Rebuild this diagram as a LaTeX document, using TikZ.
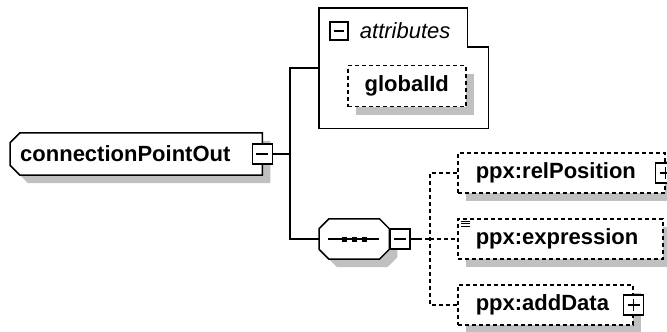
\documentclass[tikz,border=0pt]{standalone}
\usepackage{fontspec}
\setmainfont{Liberation Sans}
\usetikzlibrary{positioning,shadows,backgrounds}
\definecolor{shade}{RGB}{192,192,192}
\newcommand\lblfont{\fontsize{22}{26}\selectfont}
\tikzset{
  conn/.style={line width=1.5pt, draw=black},
  optconn/.style={conn, dash pattern=on 4pt off 3pt},
  shadeit/.style={drop shadow={shadow xshift=8pt, shadow yshift=-8pt, fill=shade, opacity=1}},
  shadowpath/.style={fill=shade, draw=none, transform canvas={xshift=8pt, yshift=-8pt}},
  chamf/.style={draw=black, line width=1.5pt, fill=white},
  rootbox/.style={rectangle, font=\lblfont\bfseries, minimum height=42pt, anchor=west,
              inner xsep=10pt, align=left},
  seqbox/.style={rectangle, minimum width=70pt, minimum height=40pt, inner sep=0pt, anchor=west},
  optbox/.style={draw, dash pattern=on 4pt off 3pt, line width=1.5pt, fill=white, shadeit,
              font=\lblfont\bfseries, minimum height=40pt, anchor=west, inner xsep=18pt, align=left},
  minusbox/.style={draw, line width=1.5pt, fill=white, minimum size=20pt, inner sep=0pt,
              path picture={\draw[line width=1.5pt] ([xshift=4pt]path picture bounding box.west)
                -- ([xshift=-4pt]path picture bounding box.east);}},
  plusbox/.style={draw, line width=1.5pt, fill=white, minimum size=20pt, inner sep=0pt,
              path picture={\draw[line width=1.5pt] ([xshift=4pt]path picture bounding box.west)
                -- ([xshift=-4pt]path picture bounding box.east);
                \draw[line width=1.5pt] ([yshift=4pt]path picture bounding box.south)
                -- ([yshift=-4pt]path picture bounding box.north);}},
}
\begin{document}
\begin{tikzpicture}[x=1pt, y=-1pt]
  \useasboundingbox (0,0) rectangle (667,332);

  % root element
  \node[rootbox, text width=232pt] (root) at (10,154) {connectionPointOut};
  \begin{scope}[on background layer]
    \foreach \sty in {shadowpath, chamf}
      \path[\sty] ([xshift=10pt]root.north west) -- (root.north east) -- (root.south east)
        -- ([xshift=10pt]root.south west) -- ([yshift=10pt]root.south west)
        -- ([yshift=-10pt]root.north west) -- cycle;
  \end{scope}
  \node[minusbox] (rootpm) at (root.east) {};
  \coordinate[right=17pt of rootpm] (bus);

  % attributes group
  \node[minimum width=169pt, minimum height=120pt, anchor=north west, inner sep=0pt] (attr) at (319,8) {};
  \draw[conn] (attr.north west) -- ([xshift=-21pt]attr.north east) -- ++(0,39)
    -| (attr.south east) -- (attr.south west) -- cycle;
  \node[minusbox, minimum size=18pt] (attrpm) at (339,31) {};
  \node[right=11pt of attrpm, inner sep=0pt, font=\lblfont\itshape] (attrlbl) {attributes};
  \node[optbox, minimum width=118pt, minimum height=41pt, inner xsep=4pt, align=center] (gid) at (347,86) {globalId};

  % sequence
  \node[seqbox] (seq) at (319,239) {};
  \begin{scope}[on background layer]
    \foreach \sty in {shadowpath, chamf}
      \path[\sty] ([xshift=10pt]seq.north west) -- ([xshift=-10pt]seq.north east)
        -- ([yshift=-10pt]seq.north east) -- ([yshift=10pt]seq.south east)
        -- ([xshift=-10pt]seq.south east) -- ([xshift=10pt]seq.south west)
        -- ([yshift=10pt]seq.south west) -- ([yshift=-10pt]seq.north west) -- cycle;
  \end{scope}
  \draw[conn] ([xshift=9pt]seq.west) -- ([xshift=-10pt]seq.east);
  \foreach \dx in {-10,0,10}
    \fill ([xshift=\dx pt]seq.center) ++(-2.5,-2.5) rectangle ++(5,5);
  \node[minusbox, anchor=west] (seqpm) at (seq.east) {};

  \draw[conn] (rootpm) -- (bus);
  \draw[conn] (attr.west) -| (bus) |- (seq.west);

  % children
  \node[optbox, text width=171pt] (relpos) at (457,173) {ppx:relPosition};
  \node[plusbox] (relpospm) at (relpos.east) {};
  \node[optbox, text width=169pt] (expr) at (457,239) {ppx:expression};
  \foreach \k in {0,1,2}
    \draw[line width=0.8pt] ([xshift=4pt, yshift=-3pt-\k*2.6pt]expr.north west) -- ++(9,0);
  \node[optbox, text width=139pt] (adddata) at (457,305) {ppx:addData};
  \node[plusbox] (adddatapm) at (adddata.east) {};

  \coordinate[right=7pt of seqpm] (seqout);
  \coordinate[right=19pt of seqpm] (seqbus);
  \draw[conn] (seqpm) -- (seqout);
  \draw[optconn] (seqout) -- (seqbus);
  \draw[optconn] (relpos.west) -| (seqbus) |- (adddata.west);
  \draw[optconn] (seqbus) -- (expr.west);
\end{tikzpicture}
\end{document}
